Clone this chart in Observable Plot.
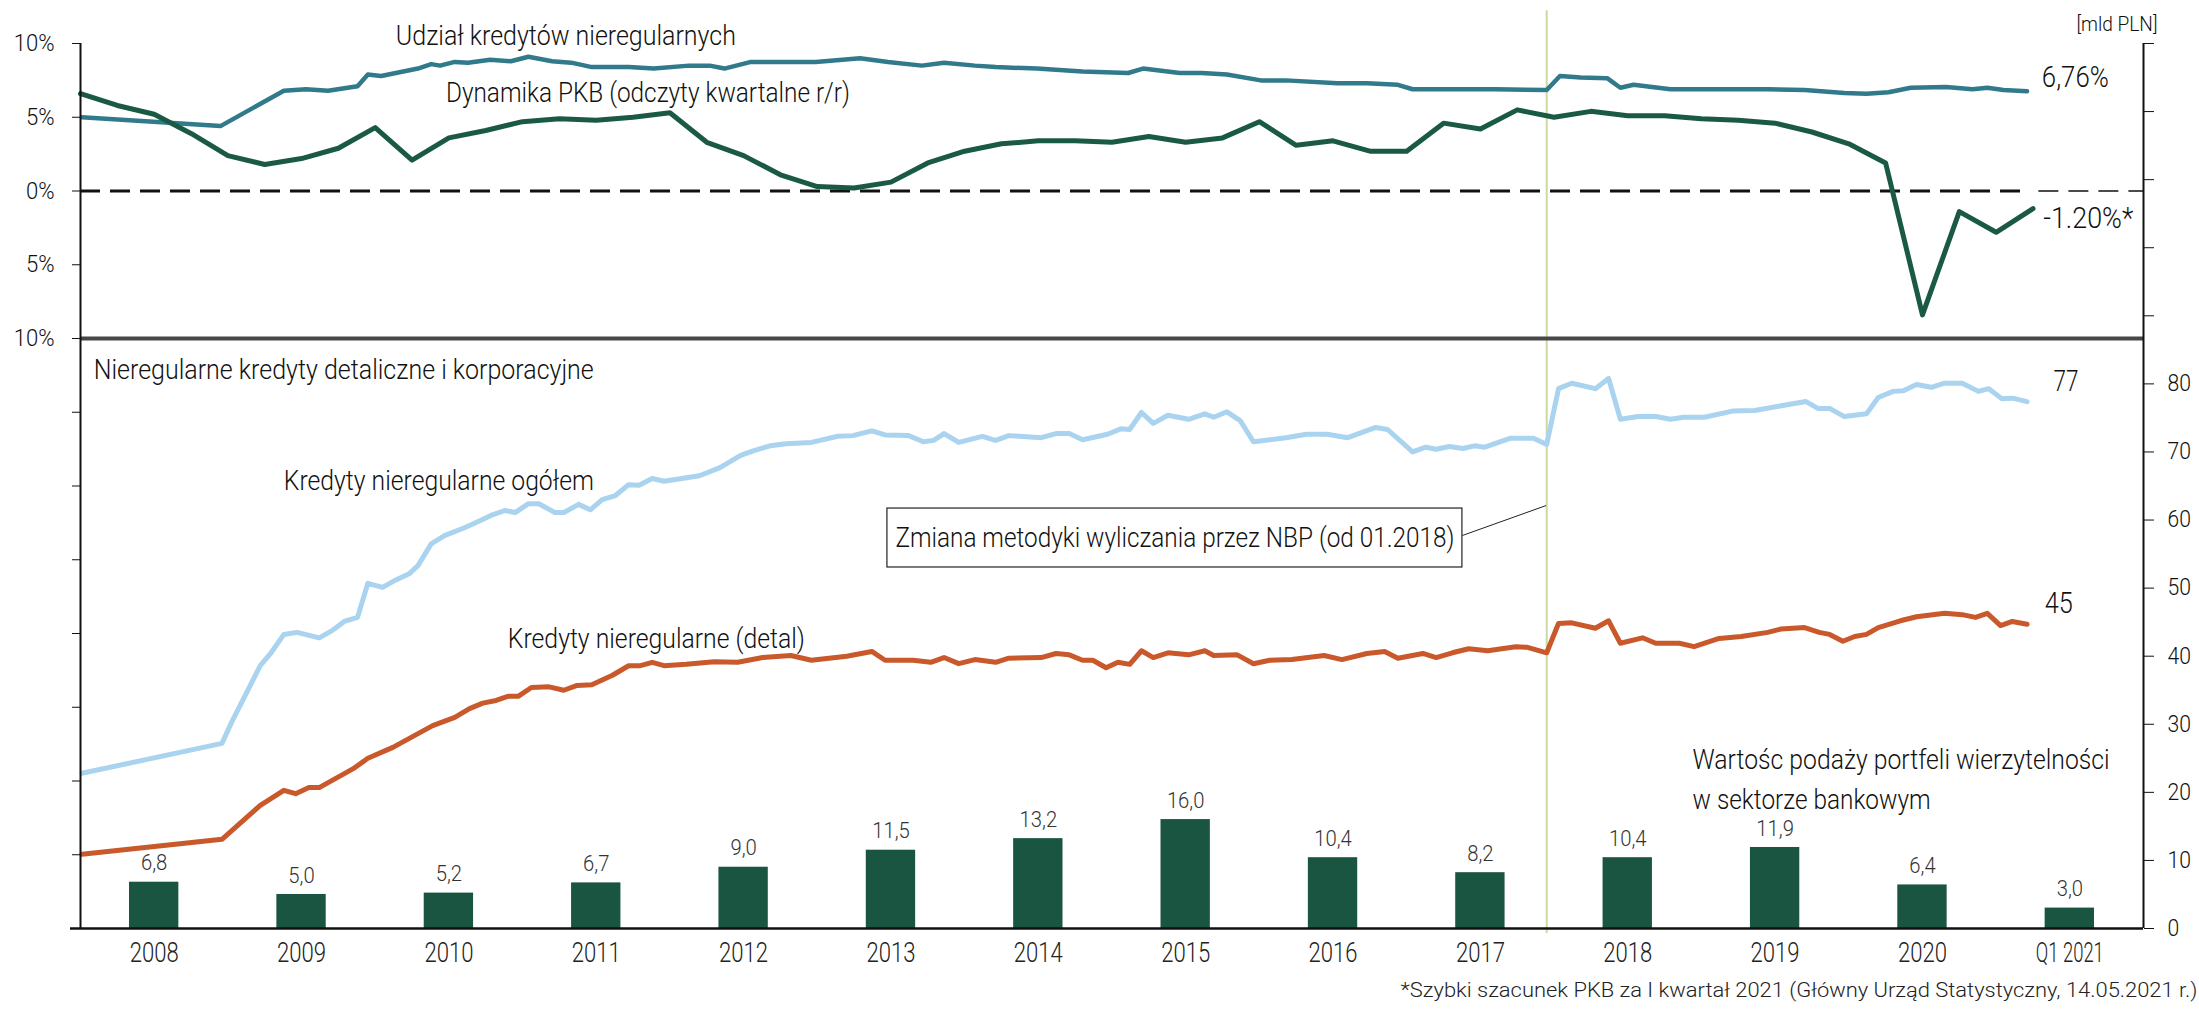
<!DOCTYPE html>
<html>
<head>
<meta charset="utf-8">
<script src="https://cdn.jsdelivr.net/npm/d3@7"></script>
<script src="https://cdn.jsdelivr.net/npm/@observablehq/plot@0.6"></script>
<style>
  html, body { margin: 0; padding: 0; background: #fff; }
  body { font-family: Roboto, "Noto Sans", sans-serif; }
  #foot { width: 2199px; text-align: right; font-size: 21px; line-height: 30px; color: #222; padding-right: 2px; box-sizing: border-box; white-space: nowrap; }
  #foot span { display: inline-block; transform-origin: 100% 50%; font-weight: 300; }
  #chart svg text { font-weight: 300; }
</style>
</head>
<body>
<div id="chart"></div>
<div id="foot"><span>*Szybki szacunek PKB za I kwartał 2021 (Główny Urząd Statystyczny, 14.05.2021 r.)</span></div>
<script>
const FONT = 'Roboto, "Noto Sans", sans-serif';

// ---- categories (x axis) ----
const years = [2008, 2009, 2010, 2011, 2012, 2013, 2014, 2015, 2016, 2017, 2018, 2019, 2020, 2021];
const yearLabels = ["2008", "2009", "2010", "2011", "2012", "2013", "2014", "2015", "2016", "2017", "2018", "2019", "2020", "Q1 2021"];

// ---- bars: Wartość podaży portfeli wierzytelności [mld PLN] ----
const salesValues = [6.8, 5.0, 5.2, 6.7, 9.0, 11.5, 13.2, 16.0, 10.4, 8.2, 10.4, 11.9, 6.4, 3.0];

// ---- GDP y/y [%], quarterly Q4 2007 ... Q1 2021 ----
const gdpValues = [6.6, 5.8, 5.2, 3.9, 2.4, 1.8, 2.2, 2.9, 4.3, 2.1, 3.6, 4.1, 4.7, 4.9, 4.8, 5.0,
  5.3, 3.3, 2.4, 1.1, 0.3, 0.2, 0.6, 1.9, 2.7, 3.2, 3.4, 3.4, 3.3, 3.7, 3.3, 3.6,
  4.7, 3.1, 3.4, 2.7, 2.7, 4.6, 4.2, 5.5, 5.0, 5.4, 5.1, 5.1, 4.9, 4.8, 4.6, 4.0,
  3.2, 1.9, -8.4, -1.4, -2.8, -1.2];
const gdpFirstQuarterEnd = 2008.0; // Q4 2007, plotted at end of quarter

// ---- share of irregular loans [%] ----
const shareT = [2008.01,2008.95,2009.38,2009.53,2009.68,2009.88,2009.95,2010.04,2010.19,2010.29,2010.38,2010.44,2010.54,2010.63,2010.78,2010.92,2011.04,2011.20,2011.33,2011.47,2011.72,2011.89,2012.13,2012.27,2012.37,2012.55,2012.68,2012.99,2013.29,2013.48,2013.71,2013.86,2014.07,2014.21,2014.49,2014.80,2015.11,2015.21,2015.46,2015.61,2015.78,2016.01,2016.18,2016.53,2016.73,2016.94,2017.04,2017.29,2017.60,2017.95,2018.04,2018.18,2018.36,2018.45,2018.54,2018.79,2019.02,2019.45,2019.70,2019.97,2020.12,2020.27,2020.42,2020.66,2020.84,2020.94,2021.05,2021.21];
const shareV = [5.0,4.4,6.8,6.9,6.8,7.1,7.9,7.8,8.1,8.3,8.6,8.5,8.75,8.7,8.9,8.8,9.1,8.8,8.7,8.4,8.4,8.3,8.5,8.5,8.3,8.75,8.75,8.75,9.0,8.75,8.5,8.7,8.5,8.4,8.3,8.1,8.0,8.3,8.0,8.0,7.9,7.5,7.5,7.3,7.3,7.2,6.9,6.9,6.9,6.85,7.8,7.7,7.65,7.0,7.2,6.9,6.9,6.9,6.85,6.65,6.6,6.7,7.0,7.05,6.9,7.0,6.85,6.76];

// ---- irregular loans total [mld PLN] ----
const totalT = [2008.01,2008.96,2009.03,2009.22,2009.29,2009.38,2009.47,2009.62,2009.71,2009.79,2009.88,2009.95,2010.05,2010.14,2010.23,2010.29,2010.38,2010.47,2010.61,2010.71,2010.80,2010.88,2010.95,2011.04,2011.11,2011.22,2011.28,2011.38,2011.46,2011.54,2011.63,2011.72,2011.79,2011.88,2011.96,2012.20,2012.34,2012.48,2012.57,2012.68,2012.79,2012.96,2013.14,2013.24,2013.37,2013.46,2013.62,2013.72,2013.79,2013.86,2013.96,2014.12,2014.21,2014.30,2014.52,2014.62,2014.71,2014.80,2014.97,2015.06,2015.12,2015.20,2015.28,2015.38,2015.52,2015.63,2015.69,2015.78,2015.87,2015.96,2016.18,2016.32,2016.46,2016.60,2016.79,2016.87,2017.04,2017.13,2017.20,2017.29,2017.38,2017.46,2017.53,2017.70,2017.86,2017.95,2018.03,2018.12,2018.28,2018.37,2018.45,2018.57,2018.69,2018.79,2018.88,2019.02,2019.21,2019.36,2019.60,2019.71,2019.79,2019.87,2019.97,2020.12,2020.20,2020.30,2020.37,2020.46,2020.56,2020.65,2020.77,2020.88,2020.95,2021.04,2021.11,2021.21];
const totalV = [22.8,27.2,30.5,38.6,40.4,43.2,43.5,42.7,43.8,45.1,45.7,50.7,50.1,51.2,52.1,53.3,56.5,57.7,58.9,59.9,60.8,61.4,61.1,62.4,62.4,61.1,61.1,62.3,61.5,63.0,63.6,65.2,65.1,66.1,65.7,66.5,67.7,69.5,70.2,70.9,71.2,71.4,72.3,72.4,73.1,72.5,72.4,71.5,71.7,72.7,71.4,72.3,71.7,72.4,72.1,72.7,72.7,71.8,72.6,73.4,73.3,75.8,74.2,75.4,74.8,75.6,75.1,75.9,74.6,71.5,72.1,72.6,72.6,72.1,73.6,73.3,70.0,70.7,70.4,70.8,70.5,70.9,70.7,72.0,72.0,71.1,79.3,80.1,79.3,80.8,74.8,75.2,75.2,74.8,75.1,75.1,76.0,76.1,77.0,77.4,76.4,76.4,75.2,75.6,78.0,78.9,79.0,79.9,79.5,80.1,80.1,78.9,79.3,77.8,77.9,77.4];

// ---- irregular retail loans [mld PLN] ----
const retailT = [2008.01,2008.96,2009.22,2009.38,2009.46,2009.55,2009.62,2009.86,2009.95,2010.12,2010.39,2010.54,2010.64,2010.73,2010.82,2010.90,2010.97,2011.06,2011.18,2011.28,2011.37,2011.47,2011.61,2011.72,2011.80,2011.88,2011.96,2012.11,2012.30,2012.46,2012.63,2012.82,2012.96,2013.20,2013.37,2013.46,2013.65,2013.77,2013.86,2013.96,2014.07,2014.21,2014.30,2014.52,2014.62,2014.71,2014.80,2014.87,2014.96,2015.04,2015.12,2015.20,2015.28,2015.38,2015.52,2015.63,2015.69,2015.85,2015.96,2016.07,2016.22,2016.44,2016.56,2016.73,2016.85,2016.94,2017.11,2017.20,2017.31,2017.42,2017.55,2017.74,2017.82,2017.95,2018.03,2018.12,2018.28,2018.37,2018.45,2018.60,2018.69,2018.85,2018.95,2019.12,2019.27,2019.45,2019.54,2019.70,2019.80,2019.87,2019.96,2020.04,2020.12,2020.20,2020.35,2020.46,2020.65,2020.77,2020.86,2020.94,2021.03,2021.11,2021.21];
const retailV = [10.9,13.1,18.1,20.3,19.8,20.7,20.7,23.6,25.0,26.6,29.8,31.0,32.3,33.1,33.5,34.1,34.1,35.4,35.5,35.0,35.7,35.8,37.2,38.6,38.6,39.1,38.6,38.8,39.2,39.1,39.8,40.1,39.4,40.0,40.7,39.4,39.4,39.1,39.8,38.9,39.5,39.1,39.7,39.8,40.4,40.2,39.4,39.4,38.3,39.1,38.8,40.8,39.8,40.5,40.2,40.8,40.1,40.2,38.9,39.4,39.5,40.1,39.5,40.4,40.7,39.7,40.4,39.8,40.5,41.1,40.8,41.4,41.3,40.5,44.8,44.9,44.1,45.2,41.9,42.7,41.9,41.9,41.4,42.6,42.9,43.5,44.0,44.2,43.5,43.2,42.2,42.9,43.2,44.2,45.2,45.8,46.3,46.1,45.7,46.3,44.5,45.1,44.7];

// ---- axis tick values ----
const pctTicks = [-50, -45, -40, -35, -30, -25, -20, -15, -10, -5, 0, 5, 10];
const mldTicks = [0, 10, 20, 30, 40, 50, 60, 70, 80, 90, 100, 110, 120, 130];
const methodChangeT = 2017.95; // 01.2018

// ---- secondary (percent) axis mapped onto the mld scale ----
const PCT_MIN = -50, PCT_MAX = 10, MLD_MAX = 130;
const pct = p => (p - PCT_MIN) * MLD_MAX / (PCT_MAX - PCT_MIN);
const pctBack = v => Math.round(v * (PCT_MAX - PCT_MIN) / MLD_MAX + PCT_MIN);

const comma = v => d3.format(".1f")(v).replace(".", ",");

const bars = years.map((y, i) => ({t: y, v: salesValues[i], label: comma(salesValues[i])}));
const gdp = gdpValues.map((v, i) => ({t: gdpFirstQuarterEnd + i / 4, y: pct(v)}));
const share = shareT.map((t, i) => ({t, y: pct(shareV[i])}));
const total = totalT.map((t, i) => ({t, y: totalV[i]}));
const retail = retailT.map((t, i) => ({t, y: retailV[i]}));
const lastT = d3.max(shareT);

// ---- annotation layout ----
const notesTop = [
  {text: "Udział kredytów nieregularnych", t: 2010.14, p: 10.5, size: 28},
  {text: "Dynamika PKB (odczyty kwartalne r/r)", t: 2010.48, p: 6.65, size: 28},
  {text: "6,76%", t: 2021.31, p: 7.73, size: 30},
  {text: "-1.20%*", t: 2021.32, p: -1.83, size: 30}
];
const notesBottom = [
  {text: "Nieregularne kredyty detaliczne i korporacyjne", t: 2008.09, v: 82.1, size: 28},
  {text: "Kredyty nieregularne ogółem", t: 2009.38, v: 65.8, size: 28},
  {text: "Kredyty nieregularne (detal)", t: 2010.90, v: 42.45, size: 28},
  {text: "77", t: 2021.39, v: 80.35, size: 30},
  {text: "45", t: 2021.33, v: 47.7, size: 30},
  {text: "Wartośc podaży portfeli wierzytelności", t: 2018.94, v: 24.7, size: 28},
  {text: "w sektorze bankowym", t: 2018.94, v: 18.9, size: 28}
];
const unitNote = {text: "[mld PLN]", t: 2021.82, v: 132.8, size: 20};
const box = {x1: 2013.476, x2: 2017.378, y1: 53.03, y2: 61.69, text: "Zmiana metodyki wyliczania przez NBP (od 01.2018)", tx: 2015.427, ty: 57.43};
const leader = {x1: 2017.378, y1: 57.73, x2: 2017.946, y2: 62.13};

// widths of the condensed lettering in the reference (px)
const fitWidths = new Map([
  ["Udział kredytów nieregularnych", 340],
  ["Dynamika PKB (odczyty kwartalne r/r)", 404],
  ["Nieregularne kredyty detaliczne i korporacyjne", 500],
  ["Kredyty nieregularne ogółem", 310],
  ["Kredyty nieregularne (detal)", 297],
  ["Zmiana metodyki wyliczania przez NBP (od 01.2018)", 559],
  ["Wartośc podaży portfeli wierzytelności", 417],
  ["w sektorze bankowym", 238],
  ["[mld PLN]", 81],
  ["6,76%", 67],
  ["-1.20%*", 90],
  ["77", 25],
  ["45", 28],
  ["Q1 2021", 68]
]);
const YEAR_W = 49, FOOT_W = 797, DEFAULT_FIT = 0.92;

const C = {teal: "#317a8c", green: "#1a5a44", blue: "#a9d3ee", orange: "#c9592b", bar: "#1a5542", method: "#c9d9a2"};

const chart = Plot.plot({
  width: 2199,
  height: 975,
  marginLeft: 80,
  marginRight: 56,
  marginTop: 43,
  marginBottom: 47,
  style: {fontFamily: FONT, background: "#fff", color: "#111", overflow: "visible"},
  x: {type: "linear", domain: [2008, 2022]},
  y: {domain: [0, MLD_MAX]},
  marks: [
    Plot.rectY(bars, {x1: "t", x2: d => d.t + 1, y: "v", fill: C.bar, insetLeft: 49, insetRight: 49}),
    Plot.text(bars, {x: d => d.t + 0.5, y: "v", text: "label", dy: -19, fontSize: 22, fill: "#333"}),
    Plot.ruleX([methodChangeT], {y1: 134.8, y2: -0.75, stroke: C.method, strokeWidth: 2}),
    Plot.ruleY([pct(-10)], {stroke: "#474747", strokeWidth: 4}),
    Plot.ruleY([pct(0)], {x1: 2008, x2: lastT, stroke: "#111", strokeWidth: 3.2, strokeDasharray: "20,10"}),
    Plot.ruleY([pct(0)], {x1: lastT + 0.08, x2: 2022, stroke: "#111", strokeWidth: 1.3, strokeDasharray: "20,10"}),
    Plot.line(total, {x: "t", y: "y", stroke: C.blue, strokeWidth: 5, strokeLinejoin: "round"}),
    Plot.line(retail, {x: "t", y: "y", stroke: C.orange, strokeWidth: 5, strokeLinejoin: "round"}),
    Plot.line(share, {x: "t", y: "y", stroke: C.teal, strokeWidth: 4.5, strokeLinejoin: "round"}),
    Plot.line(gdp, {x: "t", y: "y", stroke: C.green, strokeWidth: 5, strokeLinejoin: "round"}),
    Plot.rect([box], {x1: "x1", x2: "x2", y1: "y1", y2: "y2", fill: "#fff", stroke: "#222", strokeWidth: 1.2}),
    Plot.text([box], {x: "tx", y: "ty", text: "text", fontSize: 28, fill: "#111"}),
    Plot.link([leader], {x1: "x1", y1: "y1", x2: "x2", y2: "y2", stroke: "#222", strokeWidth: 1}),
    Plot.text(notesTop, {x: "t", y: d => pct(d.p), text: "text", fontSize: d => d.size, textAnchor: "start", fill: "#111"}),
    Plot.text(notesBottom, {x: "t", y: "v", text: "text", fontSize: d => d.size, textAnchor: "start", fill: "#111"}),
    Plot.text([unitNote], {x: "t", y: "v", text: "text", fontSize: d => d.size, textAnchor: "middle", fill: "#111"}),
    Plot.ruleX([2008], {y1: 0, y2: MLD_MAX, stroke: "#111", strokeWidth: 2}),
    Plot.ruleX([2022], {y1: 0, y2: MLD_MAX, stroke: "#111", strokeWidth: 2}),
    Plot.ruleY([0], {stroke: "#111", strokeWidth: 2.5, insetLeft: -10}),
    Plot.axisY({anchor: "left", ticks: pctTicks.map(pct), tickSize: 8, tickPadding: 18, fontSize: 24, color: "#111",
      tickFormat: v => { const p = pctBack(v); return Math.abs(p) <= 10 ? Math.abs(p) + "%" : ""; }}),
    Plot.axisY({anchor: "right", ticks: mldTicks, tickSize: 10, tickPadding: 14, fontSize: 23, color: "#111",
      tickFormat: v => v <= 80 ? String(v) : ""}),
    Plot.axisX({ticks: years.map(y => y + 0.5), tickSize: 0, tickPadding: 14, fontSize: 28, color: "#222",
      tickFormat: v => yearLabels[years.indexOf(Math.floor(v))]})
  ]
});
document.getElementById("chart").appendChild(chart);

// condense lettering to the narrow face of the original, keeping each label's anchor point
chart.querySelectorAll("text").forEach(el => {
  const s = el.textContent;
  if (!s) return;
  const w = el.getComputedTextLength();
  let target = fitWidths.get(s);
  if (target == null && /^20\d\d$/.test(s)) target = YEAR_W;
  if (target == null) target = w * DEFAULT_FIT;
  const anchor = getComputedStyle(el).textAnchor;
  const b0 = el.getBBox();
  el.setAttribute("textLength", target);
  el.setAttribute("lengthAdjust", "spacingAndGlyphs");
  const b1 = el.getBBox();
  let shift = 0;
  if (anchor === "middle") shift = (b0.x + b0.width / 2) - (b1.x + b1.width / 2);
  else if (anchor === "end") shift = (b0.x + b0.width) - (b1.x + b1.width);
  else shift = b0.x - b1.x;
  if (Math.abs(shift) > 0.2) {
    const dx = parseFloat(el.getAttribute("dx")) || 0;
    el.setAttribute("dx", dx + shift);
  }
});
const foot = document.querySelector("#foot span");
foot.style.transform = `scaleX(${FOOT_W / foot.getBoundingClientRect().width})`;
</script>
</body>
</html>
